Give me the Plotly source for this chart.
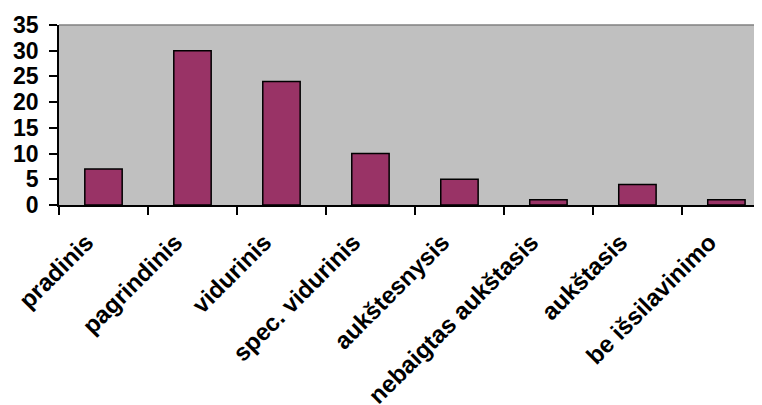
import plotly.graph_objects as go

categories = ["pradinis", "pagrindinis", "vidurinis", "spec. vidurinis",
              "aukštesnysis", "nebaigtas aukštasis", "aukštasis", "be išsilavinimo"]
values = [7, 30, 24, 10, 5, 1, 4, 1]
y_ticks = [0, 5, 10, 15, 20, 25, 30, 35]

FONT = "Arial, 'Liberation Sans', sans-serif"

fig = go.Figure()
fig.add_trace(go.Bar(
    x=categories, y=values, width=0.42,
    marker=dict(color="#993366", line=dict(color="black", width=1.5)),
    hoverinfo="x+y",
))

fig.update_layout(
    width=762, height=405,
    margin=dict(l=51, r=8, t=17, b=208, autoexpand=False),
    paper_bgcolor="white", plot_bgcolor="#C0C0C0",
    showlegend=False,
    font=dict(family=FONT, color="black"),
    xaxis=dict(
        range=[-0.5, 7.4], showgrid=False, zeroline=False, automargin=False,
        showline=True, linecolor="black", linewidth=1.5,
        ticks="outside", ticklen=8, tickwidth=1.5, tickcolor="black",
        tickson="boundaries", tickangle=-45,
        tickfont=dict(family=FONT, size=24, color="black", weight="bold"),
        ticklabelstandoff=12, ticklabelshift=-17,
    ),
    yaxis=dict(
        range=[0, 35], tickvals=y_ticks, showgrid=False, zeroline=False, automargin=False,
        showline=True, linecolor="black", linewidth=1.5,
        ticks="outside", ticklen=8, tickwidth=1.5, tickcolor="black",
        tickfont=dict(family=FONT, size=23, color="black", weight="bold"),
        ticklabelstandoff=6,
    ),
    yaxis2=dict(
        range=[0, 35], tickvals=y_ticks, overlaying="y", side="left",
        showgrid=False, zeroline=False, showline=False, automargin=False,
        ticks="inside", ticklen=8, tickwidth=1.5, tickcolor="black",
        showticklabels=False,
    ),
    shapes=[dict(type="line", xref="paper", yref="paper", x0=0, x1=1, y0=1, y1=1,
                 line=dict(color="#808080", width=1.5))],
)

fig.write_html("out.html")
